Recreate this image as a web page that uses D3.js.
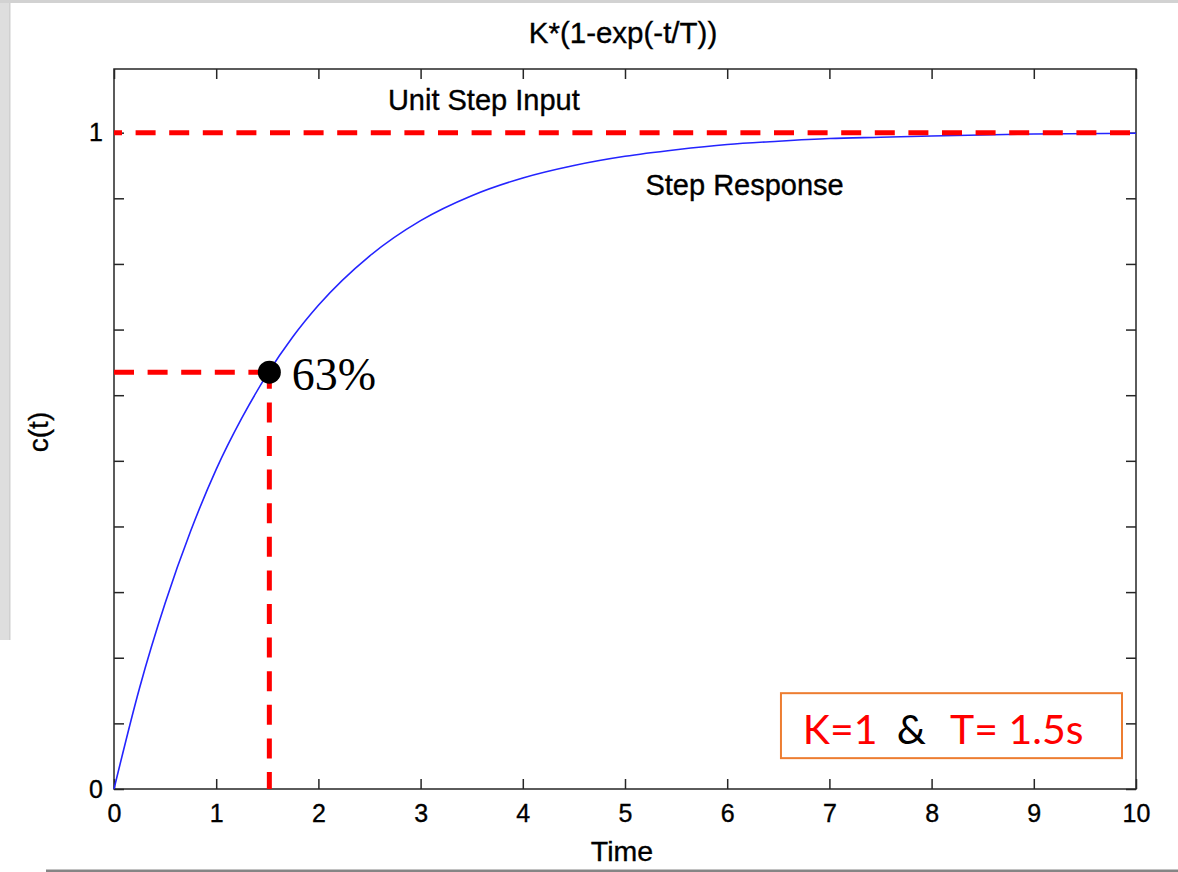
<!DOCTYPE html>
<html>
<head>
<meta charset="utf-8">
<script src="https://cdn.jsdelivr.net/npm/d3@7"></script>
<style>
  html, body { margin: 0; padding: 0; background: #ffffff; overflow: hidden; }
  svg { display: block; }
</style>
</head>
<body>
<svg id="chart" width="1178" height="872"></svg>
<script>
// ---------------- data ----------------
const timeValues     = [0, 0.25, 0.5, 0.75, 1, 1.25, 1.5, 1.75, 2, 2.5, 3, 3.5, 4, 4.5, 5, 5.5, 6, 6.5, 7, 7.5, 8, 9, 10];
const responseValues = [0, 0.154, 0.283, 0.393, 0.487, 0.565, 0.632, 0.689, 0.737, 0.812, 0.866, 0.904, 0.931, 0.95, 0.964, 0.974, 0.982, 0.987, 0.991, 0.993, 0.995, 0.998, 0.999];
const stepInputValue = 1;
const markerTime  = 1.52;
const markerValue = 0.635;

const xDomain = [0, 10];
const yDomain = [0, 1.097];
const xTickValues = [0, 1, 2, 3, 4, 5, 6, 7, 8, 9, 10];
const xTickLabels = ["0", "1", "2", "3", "4", "5", "6", "7", "8", "9", "10"];
const yTickValues = [0, 0.1, 0.2, 0.3, 0.4, 0.5, 0.6, 0.7, 0.8, 0.9, 1.0];
const yTickLabels = ["0", "", "", "", "", "", "", "", "", "", "1"];

const titleText  = "K*(1-exp(-t/T))";
const xAxisLabel = "Time";
const yAxisLabel = "c(t)";
const inputLabel    = { text: "Unit Step Input", t: 2.68, v: 1.034 };
const responseLabel = { text: "Step Response",   t: 5.2,  v: 0.905 };
const percentLabel  = { text: "63%",             t: 1.74, v: 0.608 };
const paramBox   = { t0: 6.526, t1: 9.863, v0: 0.047, v1: 0.146 };
const paramParts = [
  { text: "K=1",     t: 6.74, color: "#ff0000" },
  { text: "&",       t: 7.66, color: "#000000" },
  { text: "T= 1.5s", t: 8.18, color: "#ff0000" }
];
const paramBaseline = 0.068;

// ---------------- layout ----------------
const W = 1178, H = 872;
const margin = { top: 69, right: 42, bottom: 83, left: 114 };
const svg = d3.select("#chart");

const x = d3.scaleLinear().domain(xDomain).range([margin.left, W - margin.right]);
const y = d3.scaleLinear().domain(yDomain).range([H - margin.bottom, margin.top]);

const FONT = "'Liberation Sans', Arial, Helvetica, sans-serif";
const AXIS_COLOR = "#262626";
const TEXT_COLOR = "#000";

function heavyText(sel, size) {
  sel.style("font-family", FONT).style("font-size", size + "px")
     .attr("fill", TEXT_COLOR).attr("stroke", TEXT_COLOR).attr("stroke-width", 0.35);
  return sel;
}

// page decorations of the screenshot
svg.append("rect").attr("x", 0).attr("y", 0).attr("width", 10).attr("height", 640).attr("fill", "#dedede");
svg.append("rect").attr("x", 9).attr("y", 0).attr("width", 1.5).attr("height", 640).attr("fill", "#d0d0d0");
svg.append("rect").attr("x", 0).attr("y", 0).attr("width", W).attr("height", 3).attr("fill", "#d2d2d2");
svg.append("rect").attr("x", 46).attr("y", 869.5).attr("width", W - 46).attr("height", 2.5).attr("fill", "#858585");

// frame
svg.append("rect")
  .attr("x", x(xDomain[0])).attr("y", y(yDomain[1]))
  .attr("width", x(xDomain[1]) - x(xDomain[0]))
  .attr("height", y(yDomain[0]) - y(yDomain[1]))
  .attr("fill", "none").attr("stroke", AXIS_COLOR).attr("stroke-width", 1.5);

function styleAxis(g) {
  g.select(".domain").remove();
  g.selectAll(".tick line").attr("stroke", AXIS_COLOR).attr("stroke-width", 1.5);
  g.selectAll(".tick text").call(heavyText, 25);
}

svg.append("g")
  .attr("transform", `translate(0,${y(yDomain[0])})`)
  .call(d3.axisBottom(x).tickValues(xTickValues).tickFormat((d, i) => xTickLabels[i]).tickSize(-10).tickSizeOuter(0).tickPadding(15))
  .call(styleAxis);
svg.append("g")
  .attr("transform", `translate(0,${y(yDomain[1])})`)
  .call(d3.axisTop(x).tickValues(xTickValues).tickFormat("").tickSize(-10).tickSizeOuter(0))
  .call(styleAxis);
svg.append("g")
  .attr("transform", `translate(${x(xDomain[0])},0)`)
  .call(d3.axisLeft(y).tickValues(yTickValues).tickFormat((d, i) => yTickLabels[i]).tickSize(-10).tickSizeOuter(0).tickPadding(11))
  .call(styleAxis);
svg.append("g")
  .attr("transform", `translate(${x(xDomain[1])},0)`)
  .call(d3.axisRight(y).tickValues(yTickValues).tickFormat("").tickSize(-10).tickSizeOuter(0))
  .call(styleAxis);

// step response curve
const pts = timeValues.map((t, i) => [t, responseValues[i]]);
svg.append("path")
  .datum(pts)
  .attr("fill", "none")
  .attr("stroke", "#2424ff")
  .attr("stroke-width", 1.6)
  .attr("d", d3.line().x(d => x(d[0])).y(d => y(d[1])).curve(d3.curveMonotoneX));

// unit step input dashed line
const DASH = "20,13.6";
svg.append("line")
  .attr("x1", x(xDomain[0])).attr("x2", x(xDomain[1]))
  .attr("y1", y(stepInputValue)).attr("y2", y(stepInputValue))
  .attr("stroke", "#ff0000").attr("stroke-width", 5)
  .attr("stroke-dasharray", DASH).attr("stroke-dashoffset", 12);

// 63% guide lines
svg.append("line")
  .attr("x1", x(xDomain[0])).attr("x2", x(markerTime))
  .attr("y1", y(markerValue)).attr("y2", y(markerValue))
  .attr("stroke", "#ff0000").attr("stroke-width", 5)
  .attr("stroke-dasharray", DASH);
svg.append("line")
  .attr("x1", x(markerTime)).attr("x2", x(markerTime))
  .attr("y1", y(yDomain[0])).attr("y2", y(markerValue))
  .attr("stroke", "#ff0000").attr("stroke-width", 5)
  .attr("stroke-dasharray", DASH).attr("stroke-dashoffset", 3);

// marker dot
svg.append("circle")
  .attr("cx", x(markerTime)).attr("cy", y(markerValue))
  .attr("r", 11.5).attr("fill", "#000");

// texts
svg.append("text")
  .attr("x", (x(xDomain[0]) + x(xDomain[1])) / 2 - 2).attr("y", 43)
  .attr("text-anchor", "middle")
  .call(heavyText, 29.5)
  .text(titleText);
svg.append("text")
  .attr("x", (x(xDomain[0]) + x(xDomain[1])) / 2 - 3).attr("y", 861)
  .attr("text-anchor", "middle")
  .call(heavyText, 28.5)
  .text(xAxisLabel);
svg.append("text")
  .attr("transform", `translate(48,${(y(yDomain[0]) + y(yDomain[1])) / 2 + 3}) rotate(-90)`)
  .attr("text-anchor", "middle")
  .call(heavyText, 28)
  .text(yAxisLabel);

[inputLabel, responseLabel].forEach(l => {
  svg.append("text")
    .attr("x", x(l.t)).attr("y", y(l.v))
    .call(heavyText, 29)
    .text(l.text);
});
svg.append("text")
  .attr("x", x(percentLabel.t)).attr("y", y(percentLabel.v))
  .style("font-family", "'Liberation Serif', 'Times New Roman', serif").style("font-size", "46px").attr("fill", "#000")
  .text(percentLabel.text);

// parameter box
svg.append("rect")
  .attr("x", x(paramBox.t0)).attr("y", y(paramBox.v1))
  .attr("width", x(paramBox.t1) - x(paramBox.t0))
  .attr("height", y(paramBox.v0) - y(paramBox.v1))
  .attr("fill", "#ffffff").attr("stroke", "#ed7d31").attr("stroke-width", 2);
paramParts.forEach(p => {
  svg.append("text")
    .attr("x", x(p.t)).attr("y", y(paramBaseline))
    .style("font-family", "Lato, 'Open Sans', sans-serif").style("font-size", "41px")
    .attr("fill", p.color)
    .text(p.text);
});
</script>
</body>
</html>
